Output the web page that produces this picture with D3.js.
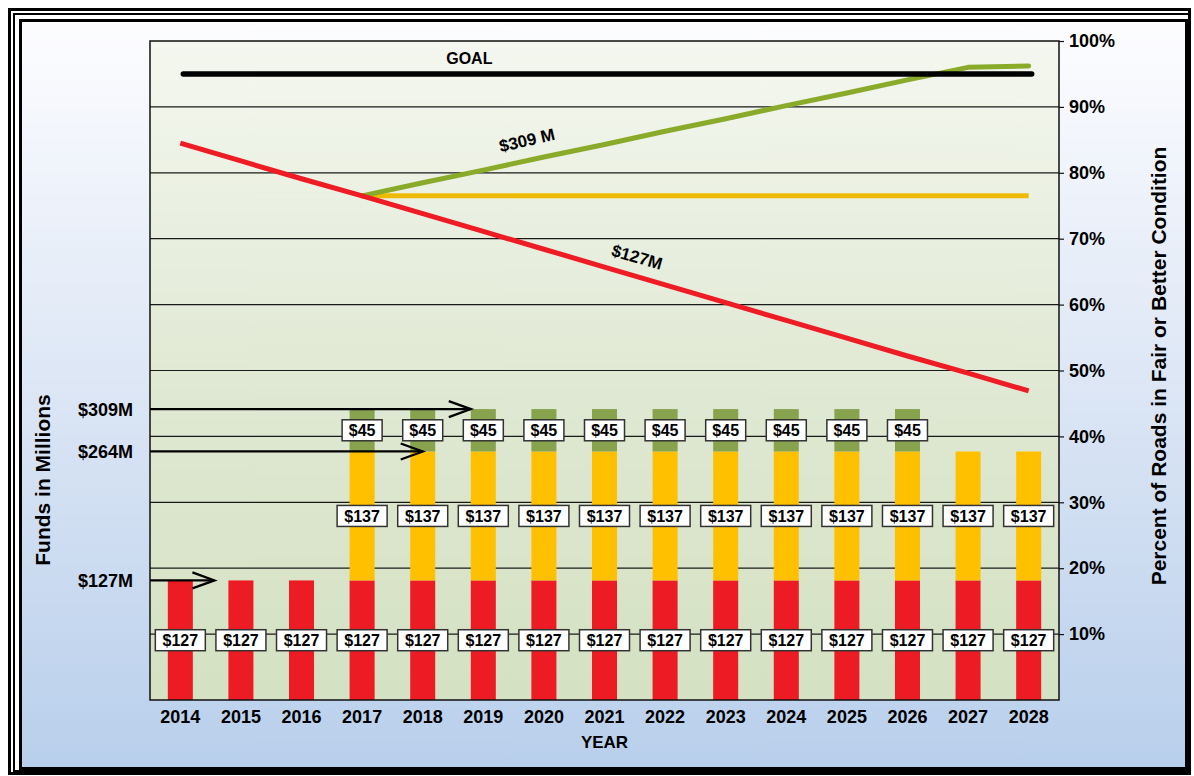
<!DOCTYPE html>
<html>
<head>
<meta charset="utf-8">
<script src="https://cdn.jsdelivr.net/npm/d3@7"></script>
<style>
  html, body { margin: 0; padding: 0; background: #ffffff; }
  svg { display: block; }
  text { font-family: "Liberation Sans", Arial, sans-serif; font-weight: bold; fill: #000; }
</style>
</head>
<body>
<svg id="chart" width="1194" height="776"></svg>
<script>
// ---- data ----
const years = ["2014","2015","2016","2017","2018","2019","2020","2021","2022","2023","2024","2025","2026","2027","2028"];
// funding in millions, stacked per year
const baseFunds  = [127,127,127,127,127,127,127,127,127,127,127,127,127,127,127];
const addedFunds = [0,0,0,137,137,137,137,137,137,137,137,137,137,137,137];
const extraFunds = [0,0,0,45,45,45,45,45,45,45,45,45,45,0,0];
// percent of roads in fair or better condition
const pctAt127 = [84.5,81.8,79.1,76.5,73.8,71.1,68.4,65.7,63.0,60.3,57.6,54.9,52.2,49.6,46.9];
const pctAt264 = [null,null,null,76.5,76.5,76.5,76.5,76.5,76.5,76.5,76.5,76.5,76.5,76.5,76.5];
const pctAt309 = [null,null,null,76.5,78.5,80.4,82.4,84.3,86.3,88.2,90.2,92.1,94.1,96.0,96.2];
const goalYears = ["2014","2028"];
const goalPct = [95,95];
const pctTicks = [10,20,30,40,50,60,70,80,90,100];
const fundLevels = [309,264,127];
const fundLabels = ["$309M","$264M","$127M"];

// ---- layout ----
const svg = d3.select("#chart");
const plot = {left:150, right:1059, top:41, bottom:700};

const defs = svg.append("defs");
const bgGrad = defs.append("linearGradient").attr("id","bgGrad").attr("x1",0).attr("y1",0).attr("x2",0).attr("y2",1);
bgGrad.append("stop").attr("offset","0%").attr("stop-color","#fdfdff");
bgGrad.append("stop").attr("offset","45%").attr("stop-color","#dfe8f6");
bgGrad.append("stop").attr("offset","100%").attr("stop-color","#b8cfeb");
const plotGrad = defs.append("linearGradient").attr("id","plotGrad").attr("x1",0).attr("y1",0).attr("x2",0).attr("y2",1);
plotGrad.append("stop").attr("offset","0%").attr("stop-color","#f4f7ef");
plotGrad.append("stop").attr("offset","55%").attr("stop-color","#dfe8d2");
plotGrad.append("stop").attr("offset","100%").attr("stop-color","#d4e1c2");

// frame
svg.append("rect").attr("x",9.5).attr("y",9.5).attr("width",1180).attr("height",764)
  .attr("fill","none").attr("stroke","#000").attr("stroke-width",3);
svg.append("rect").attr("x",14).attr("y",14).attr("width",1175).attr("height",757)
  .attr("fill","none").attr("stroke","#000").attr("stroke-width",2);
svg.append("rect").attr("x",20.5).attr("y",20.5).attr("width",1166).attr("height",748)
  .attr("fill","url(#bgGrad)").attr("stroke","#000").attr("stroke-width",3);

// scales
const x = d3.scaleBand().domain(years).range([plot.left, plot.right]).paddingInner(0.587).paddingOuter(0.294);
const xc = d => x(d) + x.bandwidth()/2;
const yFunds = d3.scaleLinear().domain([0,700]).range([plot.bottom, plot.top]);
const yPct = d3.scaleLinear().domain([0,100]).range([plot.bottom, plot.top]);

// plot background
svg.append("rect").attr("x",plot.left).attr("y",plot.top)
  .attr("width",plot.right-plot.left).attr("height",plot.bottom-plot.top)
  .attr("fill","url(#plotGrad)");

// gridlines
svg.append("g").selectAll("line").data(pctTicks.filter(t => t < 100)).join("line")
  .attr("x1",plot.left).attr("x2",plot.right)
  .attr("y1",d => yPct(d)).attr("y2",d => yPct(d))
  .attr("stroke","#1a1a1a").attr("stroke-width",1.2);

// stacked bars
const rows = years.map((yr,i) => ({year:yr, base:baseFunds[i], added:addedFunds[i], extra:extraFunds[i]}));
const keys = ["base","added","extra"];
const colors = {base:"#ed1c24", added:"#ffc000", extra:"#87a34e"};
const stacked = d3.stack().keys(keys)(rows);
const barG = svg.append("g");
stacked.forEach(layer => {
  barG.selectAll(null).data(layer.filter(d => d[1] > d[0])).join("rect")
    .attr("x", d => x(d.data.year))
    .attr("width", x.bandwidth())
    .attr("y", d => yFunds(d[1]))
    .attr("height", d => yFunds(d[0]) - yFunds(d[1]))
    .attr("fill", colors[layer.key]);
});

// plot border
svg.append("rect").attr("x",plot.left).attr("y",plot.top)
  .attr("width",plot.right-plot.left).attr("height",plot.bottom-plot.top)
  .attr("fill","none").attr("stroke","#111").attr("stroke-width",1.5);

// value labels in boxes
const labelG = svg.append("g");
stacked.forEach(layer => {
  layer.filter(d => d[1] > d[0]).forEach(d => {
    const v = d[1] - d[0];
    const cx = xc(d.data.year);
    const cy = yFunds((d[0] + d[1]) / 2);
    const bw = v >= 100 ? 50 : 40;
    const g = labelG.append("g").attr("transform", `translate(${cx},${cy})`);
    g.append("rect").attr("x",-bw/2).attr("y",-10.5).attr("width",bw).attr("height",21)
      .attr("fill","#fff").attr("stroke","#333").attr("stroke-width",1.5);
    g.append("text").attr("text-anchor","middle").attr("dy","0.36em")
      .style("font-size","16px").text("$" + v);
  });
});

// condition lines
const lineGen = d3.line().defined(d => d.v != null).x(d => xc(d.year)).y(d => yPct(d.v));
const seriesOf = arr => years.map((yr,i) => ({year:yr, v:arr[i]}));
svg.append("path").datum(seriesOf(pctAt264)).attr("d", lineGen)
  .attr("fill","none").attr("stroke","#efbb00").attr("stroke-width",5);
svg.append("path").datum(seriesOf(pctAt309)).attr("d", lineGen)
  .attr("fill","none").attr("stroke","#8aaa2a").attr("stroke-width",5)
  .attr("stroke-linecap","round").attr("stroke-linejoin","round");
svg.append("path").datum(seriesOf(pctAt127)).attr("d", lineGen)
  .attr("fill","none").attr("stroke","#ee1c25").attr("stroke-width",5);
svg.append("path").datum(goalYears.map((yr,i) => ({year:yr, v:goalPct[i]})))
  .attr("d", lineGen).attr("transform","translate(3,0)")
  .attr("fill","none").attr("stroke","#000").attr("stroke-width",5.5).attr("stroke-linecap","round");

// line annotations
svg.append("text").attr("x", xc("2019") - 14).attr("y", yPct(goalPct[0]) - 10)
  .attr("text-anchor","middle").style("font-size","16px").text("GOAL");
{
  const i = years.indexOf("2020");
  const gx = xc("2020") - 17, gy = yPct(pctAt309[i]) - 17;
  svg.append("text").attr("transform", `translate(${gx},${gy}) rotate(-13)`)
    .attr("text-anchor","middle").attr("dy","0.36em").style("font-size","17px").text("$309 M");
  const j = years.indexOf("2022");
  const rx = xc("2022") - 28, ry = yPct(pctAt127[j]) - 28;
  svg.append("text").attr("transform", `translate(${rx},${ry}) rotate(16)`)
    .attr("text-anchor","middle").attr("dy","0.36em").style("font-size","17px").text("$127M");
}

// funding level arrows
const arrowTips = [x("2019"), xc("2018"), x("2015") - 14];
fundLevels.forEach((f,i) => {
  const y = yFunds(f), tip = arrowTips[i];
  const g = svg.append("g").attr("stroke","#000").attr("stroke-width",2.3).attr("fill","none");
  g.append("line").attr("x1",plot.left).attr("x2",tip).attr("y1",y).attr("y2",y);
  g.append("polyline").attr("points", `${tip-22},${y-8} ${tip},${y} ${tip-22},${y+8}`);
  svg.append("text").attr("x",133).attr("y",y).attr("dy","0.36em")
    .attr("text-anchor","end").style("font-size","18px").text(fundLabels[i]);
});

// right axis
const rAxis = svg.append("g").attr("transform", `translate(${plot.right},0)`)
  .call(d3.axisRight(yPct).tickValues(pctTicks).tickFormat(d => d + "%").tickSize(5).tickPadding(5));
rAxis.select(".domain").remove();
rAxis.selectAll(".tick line").attr("stroke","#111").attr("stroke-width",1.2);
rAxis.selectAll(".tick text").style("font-size","18px").attr("font-family",null).attr("fill","#000");

// bottom axis
const bAxis = svg.append("g").attr("transform", `translate(0,${plot.bottom})`)
  .call(d3.axisBottom(x).tickSize(0).tickPadding(10));
bAxis.select(".domain").remove();
bAxis.selectAll(".tick text").style("font-size","18px").attr("font-family",null).attr("fill","#000");

// axis titles
svg.append("text").attr("x",(plot.left+plot.right)/2).attr("y",748)
  .attr("text-anchor","middle").style("font-size","17px").text("YEAR");
svg.append("text").attr("transform","translate(42,480) rotate(-90)")
  .attr("text-anchor","middle").attr("dy","0.36em").style("font-size","21px").text("Funds in Millions");
svg.append("text").attr("transform","translate(1158,366) rotate(-90)")
  .attr("text-anchor","middle").attr("dy","0.36em").style("font-size","21px")
  .text("Percent of Roads in Fair or Better Condition");
</script>
</body>
</html>
